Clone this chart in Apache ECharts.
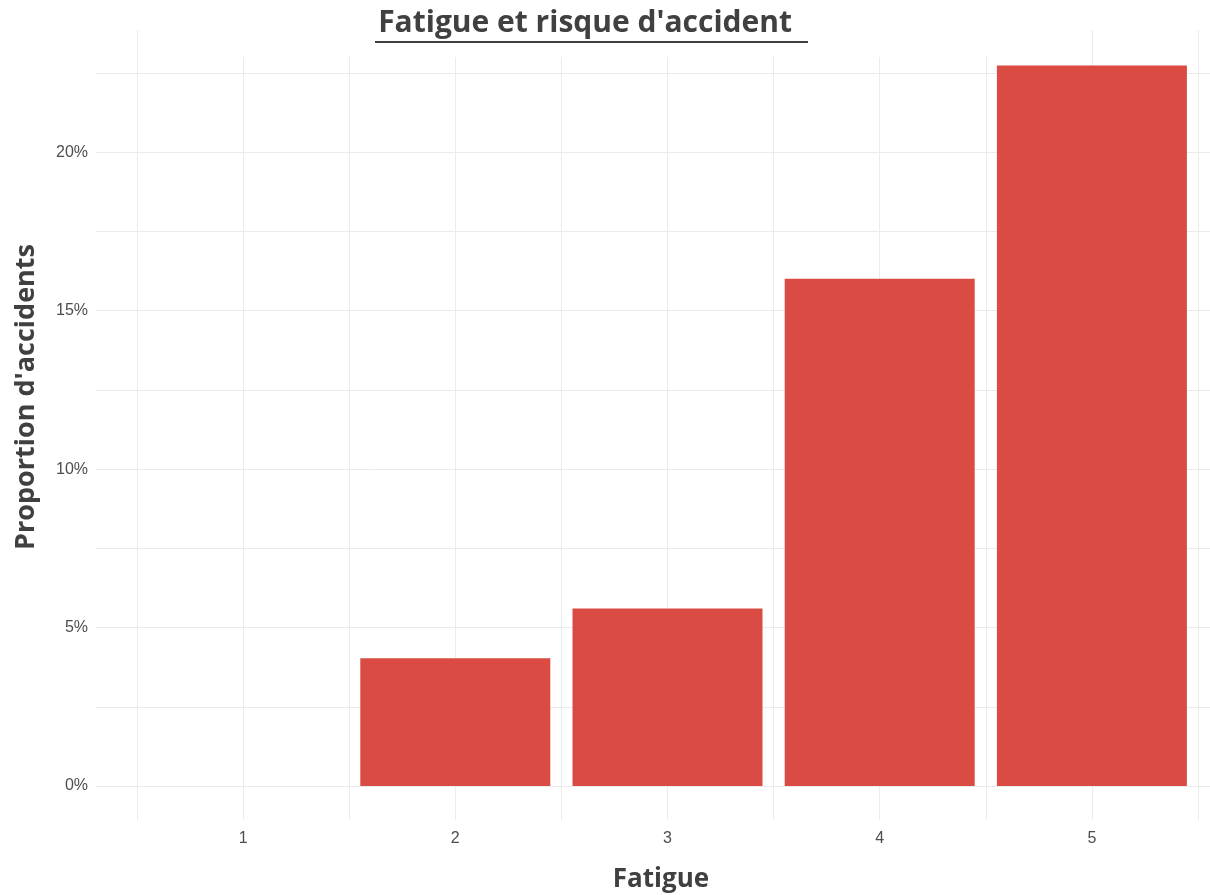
<!DOCTYPE html>
<html>
<head>
<meta charset="utf-8">
<script src="https://cdn.jsdelivr.net/npm/echarts@6/dist/echarts.min.js"></script>
<style>
  html, body { margin: 0; padding: 0; background: #fff; }
  #chart { width: 1210px; height: 895px; }
</style>
</head>
<body>
<div id="chart"></div>
<script>
// niveaux de fatigue et proportion d'accidents (en %)
const fatigue = [1, 2, 3, 4, 5];
const proportion = [0, 4.03, 5.6, 16.0, 22.73];
const yTickLabels = ['0%', '5%', '10%', '15%', '20%'];

const gridColor = '#ebebeb';
const barColor = '#d94b43';
const textColor = '#404040';

const chart = echarts.init(document.getElementById('chart'));

chart.setOption({
  animation: false,
  grid: [
    // grille horizontale + étiquettes y
    { left: 96, right: 0, top: 73, bottom: 109 },
    // grille verticale + barres
    { left: 137, right: 12, top: 30, bottom: 75 }
  ],
  xAxis: [
    { gridIndex: 0, type: 'value', min: 0, max: 1, show: false },
    {
      gridIndex: 1,
      type: 'value',
      min: 0.5,
      max: 5.5,
      interval: 0.5,
      axisLine: { show: false },
      axisTick: { show: false },
      axisLabel: {
        color: '#4d4d4d',
        fontSize: 16,
        fontFamily: 'Liberation Sans, Arial, sans-serif',
        margin: 11,
        formatter: function (v) {
          return fatigue.indexOf(v) >= 0 ? String(v) : '';
        }
      },
      splitLine: { show: true, lineStyle: { color: gridColor, width: 1 } }
    }
  ],
  yAxis: [
    {
      gridIndex: 0,
      type: 'value',
      min: 0,
      max: 22.5,
      interval: 2.5,
      axisLine: { show: false },
      axisTick: { show: false },
      axisLabel: {
        color: '#4d4d4d',
        fontSize: 16,
        fontFamily: 'Liberation Sans, Arial, sans-serif',
        margin: 8,
        formatter: function (v) {
          const i = Math.round(v / 5);
          return (Math.abs(v - i * 5) < 1e-6 && yTickLabels[i]) ? yTickLabels[i] : '';
        }
      },
      splitLine: { show: true, lineStyle: { color: gridColor, width: 1 } }
    },
    {
      gridIndex: 1,
      type: 'value',
      min: -1.07,
      max: 23.85,
      show: false
    }
  ],
  graphic: [
    // fond blanc derrière le titre
    {
      type: 'rect',
      z: 100,
      shape: { x: 160, y: 0, width: 910, height: 57 },
      style: { fill: '#fff' }
    },
    {
      type: 'text',
      z: 101,
      x: 589,
      y: 23,
      style: {
        text: "Fatigue et risque d'accident ",
        fill: textColor,
        font: 'bold 30px "Open Sans", sans-serif',
        align: 'center',
        verticalAlign: 'middle'
      }
    },
    {
      type: 'rect',
      z: 101,
      shape: { x: 375, y: 41, width: 433, height: 2 },
      style: { fill: textColor }
    },
    {
      type: 'text',
      z: 101,
      x: 26,
      y: 397,
      rotation: Math.PI / 2,
      style: {
        text: "Proportion d'accidents",
        fill: textColor,
        font: 'bold 27px "Open Sans", sans-serif',
        align: 'center',
        verticalAlign: 'middle'
      }
    },
    {
      type: 'text',
      z: 101,
      x: 661,
      y: 880,
      style: {
        text: 'Fatigue',
        fill: textColor,
        font: 'bold 26px "Open Sans", sans-serif',
        align: 'center',
        verticalAlign: 'middle'
      }
    }
  ],
  series: [
    {
      type: 'bar',
      xAxisIndex: 1,
      yAxisIndex: 1,
      barWidth: 190,
      itemStyle: { color: barColor },
      data: fatigue.map(function (f, i) { return [f, proportion[i]]; })
    }
  ]
});
</script>
</body>
</html>
